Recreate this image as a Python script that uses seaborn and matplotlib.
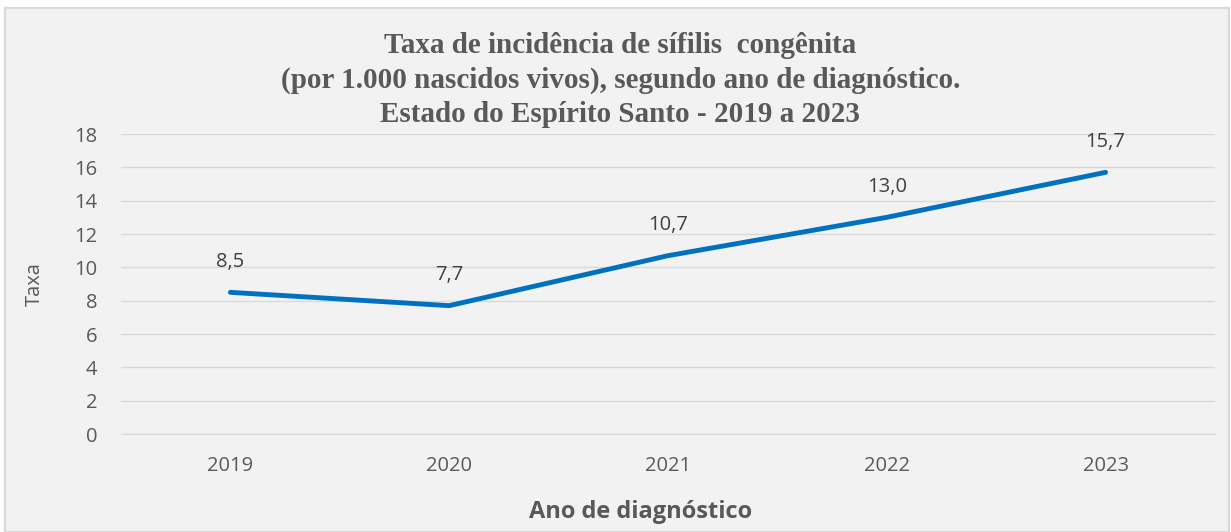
import matplotlib
matplotlib.use("Agg")
import matplotlib.pyplot as plt
import seaborn as sns
import pandas as pd
from matplotlib.patches import Rectangle

anos = ["2019", "2020", "2021", "2022", "2023"]
taxa = [8.5, 7.7, 10.7, 13.0, 15.7]
rotulos = ["8,5", "7,7", "10,7", "13,0", "15,7"]

df = pd.DataFrame({"ano": anos, "taxa": taxa})

sns.set_style("white")
plt.rcParams["font.family"] = ["Open Sans", "DejaVu Sans"]

bg = "#F2F2F2"
cinza = "#595959"

fig = plt.figure(figsize=(12.31, 5.32), dpi=100, facecolor="white")
fig.patches.append(Rectangle((0.004, 0.0), 0.994, 0.985, transform=fig.transFigure,
                             facecolor=bg, edgecolor="#D9D9D9", linewidth=1.5, zorder=-1))
ax = fig.add_axes([121 / 1231, 1 - 434 / 532, (1215 - 121) / 1231, 300 / 532])
ax.set_facecolor(bg)

sns.lineplot(data=df, x="ano", y="taxa", ax=ax, color="#0070C0", linewidth=3.5,
             sort=False)

for i, (v, t) in enumerate(zip(taxa, rotulos)):
    ax.annotate(t, (i, v), xytext=(0, 15), textcoords="offset points",
                ha="center", va="bottom", fontsize=14.5, color="#404040")

ax.set_xlim(-0.5, 4.5)
ax.set_ylim(0, 18)
ax.set_yticks(range(0, 19, 2))
ax.grid(axis="y", color="#D9D9D9", linewidth=1)
ax.set_axisbelow(True)
for s in ["top", "right", "left"]:
    ax.spines[s].set_visible(False)
ax.spines["bottom"].set_color("#D9D9D9")
ax.tick_params(axis="both", colors=cinza, labelsize=14.5, length=0)
ax.tick_params(axis="y", pad=17)
ax.tick_params(axis="x", pad=16)

ax.set_ylabel("Taxa", fontsize=14.5, color=cinza, labelpad=21)
ax.set_xlabel("Ano de diagnóstico", fontsize=17, color=cinza, fontweight="bold")
ax.xaxis.set_label_coords(0.475, -0.22)

fig.text(0.504, 0.94,
         "Taxa de incidência de sífilis  congênita\n(por 1.000 nascidos vivos), segundo ano de diagnóstico.\nEstado do Espírito Santo - 2019 a 2023",
         ha="center", va="top", fontsize=21, fontweight="bold", color=cinza,
         family=["Liberation Serif", "DejaVu Serif"], linespacing=1.35)

fig.savefig("out.png", dpi=100, facecolor="white")
